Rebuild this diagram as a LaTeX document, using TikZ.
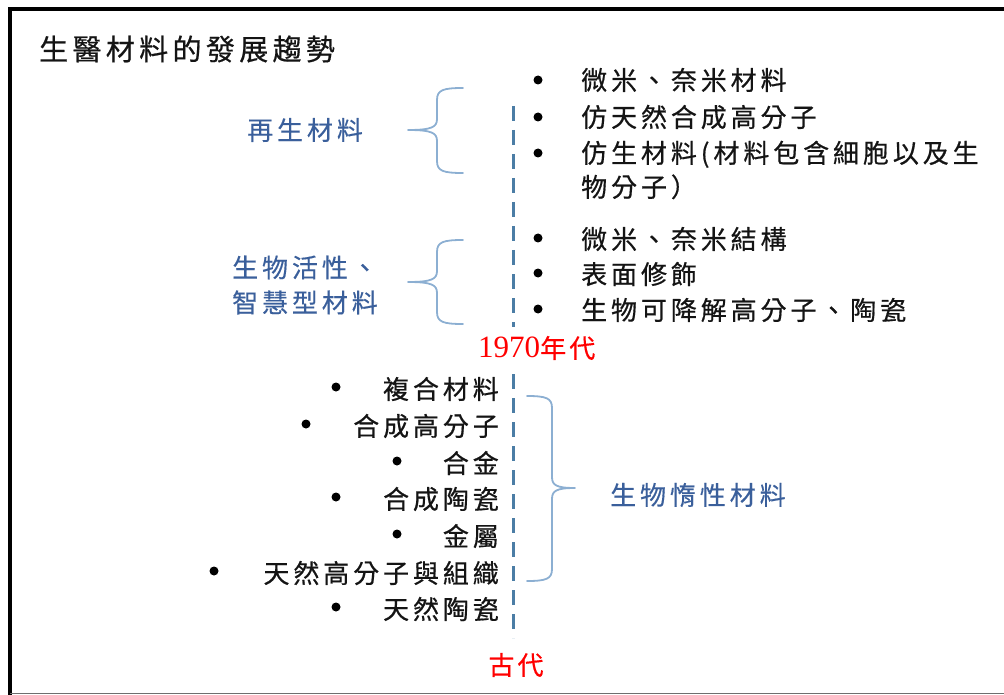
\documentclass[tikz,border=0pt]{standalone}
\usepackage{fontspec}
\newfontfamily\cjk[LetterSpace=15,FakeBold=0.6]{Noto Sans CJK TC}
\newfontfamily\cjkl[LetterSpace=15,FakeBold=0.4]{Noto Sans CJK TC}
\newfontfamily\cjkred[LetterSpace=12,FakeBold=0.4]{Noto Sans CJK TC}
\newfontfamily\digitfont{Liberation Serif}
\usetikzlibrary{decorations.pathreplacing}
\definecolor{labelblue}{RGB}{58,95,155}
\definecolor{braceblue}{RGB}{140,175,210}
\definecolor{lineblue}{RGB}{75,125,165}
\definecolor{textblack}{RGB}{20,20,20}
\definecolor{framegray}{RGB}{110,110,110}
\begin{document}
\begin{tikzpicture}[x=1pt,y=-1pt,
  item/.style={anchor=west, inner sep=0pt, text=textblack, font={\cjk\fontsize{26}{34}\selectfont}},
  ritem/.style={anchor=east, inner sep=0pt, text=textblack, font={\cjk\fontsize{26}{34}\selectfont}},
  lbl/.style={anchor=west, inner sep=0pt, text=labelblue, font={\cjkl\fontsize{26}{35}\selectfont}},
  dot/.style={circle, fill=black, draw=none, inner sep=0pt, minimum size=9pt},
  timeline/.style={draw=lineblue, line width=3pt, dash pattern=on 15pt off 9pt},
  bracestyle/.style={draw=braceblue, line width=1.8pt, line cap=round, line join=round},
  yr/.style={inner sep=0pt, text=red}
]
\useasboundingbox (0,0) rectangle (1004,695);
% frame
\draw[line width=4pt, black] (10,695) -- (10,9) -- (1004,9);
\draw[line width=1.5pt, framegray] (10,693.5) -- (1004,693.5);

% title
\node[anchor=west, inner sep=0pt, text=textblack, font={\cjk\fontsize{29}{34}\selectfont}] (title) at (39,49) {生醫材料的發展趨勢};

% timeline
\node[yr, anchor=west] (n1970) at (478,348) {{\digitfont\fontsize{31}{34}\selectfont 1970}{\cjkred\fontsize{26}{34}\selectfont 年代}};
\node[yr, font={\cjkred\fontsize{26}{34}\selectfont}] (ngu) at (516,665) {古代};
\coordinate (t1) at (513,106);
\coordinate (t2) at (513,327);
\coordinate (t3) at (513,374);
\coordinate (t4) at (513,638);
\draw[timeline] (t1) -- (t2);
\draw[timeline] (t3) -- (t4);

% upper right list
\node[dot] (b1) at (538,80) {};
\node[item] (i1) at (581,80) {微米、奈米材料};
\node[dot] (b2) at (538,117) {};
\node[item] (i2) at (581,117) {仿天然合成高分子};
\node[dot] (b3) at (538,153) {};
\node[item, align=left] (i3) at (581,170) {仿生材料(材料包含細胞以及生\\物分子）};
\node[dot] (b4) at (538,238) {};
\node[item] (i4) at (581,239) {微米、奈米結構};
\node[dot] (b5) at (538,273) {};
\node[item] (i5) at (581,274) {表面修飾};
\node[dot] (b6) at (538,309) {};
\node[item] (i6) at (581,310) {生物可降解高分子、陶瓷};

% upper braces and labels
\coordinate (u1t) at (463,88);
\coordinate (u1tip) at (408,130);
\coordinate (u1b) at (463,173);
\draw[bracestyle] (u1t) .. controls (443,88) and (437,90) .. (437,100) -- (437,119)
  .. controls (437,127) and (432,130) .. (u1tip)
  .. controls (432,130) and (437,133) .. (437,141) -- (437,161)
  .. controls (437,171) and (443,173) .. (u1b);
\node[lbl] (l1) at (247,130) {再生材料};

\coordinate (u2t) at (463,240);
\coordinate (u2tip) at (408,282);
\coordinate (u2b) at (463,324);
\draw[bracestyle] (u2t) .. controls (443,240) and (437,242) .. (437,252) -- (437,271)
  .. controls (437,279) and (432,282) .. (u2tip)
  .. controls (432,282) and (437,285) .. (437,293) -- (437,312)
  .. controls (437,322) and (443,324) .. (u2b);
\node[lbl, align=left] (l2) at (232,285) {生物活性、\\智慧型材料};

% lower list
\node[dot] (c1) at (336,387) {};
\node[ritem] (j1) at (499,389) {複合材料};
\node[dot] (c2) at (306,424) {};
\node[ritem] (j2) at (499,426) {合成高分子};
\node[dot] (c3) at (397,461) {};
\node[ritem] (j3) at (499,463) {合金};
\node[dot] (c4) at (336,497) {};
\node[ritem] (j4) at (499,499) {合成陶瓷};
\node[dot] (c5) at (397,534) {};
\node[ritem] (j5) at (499,536) {金屬};
\node[dot] (c6) at (214,571) {};
\node[ritem] (j6) at (499,573) {天然高分子與組織};
\node[dot] (c7) at (336,607) {};
\node[ritem] (j7) at (499,609) {天然陶瓷};

% lower brace and label
\coordinate (w1t) at (527,396);
\coordinate (w1tip) at (575,488);
\coordinate (w1b) at (527,581);
\draw[bracestyle] (w1t) .. controls (546,396) and (552,398) .. (552,408) -- (552,477)
  .. controls (552,485) and (556,488) .. (w1tip)
  .. controls (556,488) and (552,491) .. (552,499) -- (552,569)
  .. controls (552,579) and (546,581) .. (w1b);
\node[lbl] (l3) at (610,495) {生物惰性材料};
\end{tikzpicture}
\end{document}
